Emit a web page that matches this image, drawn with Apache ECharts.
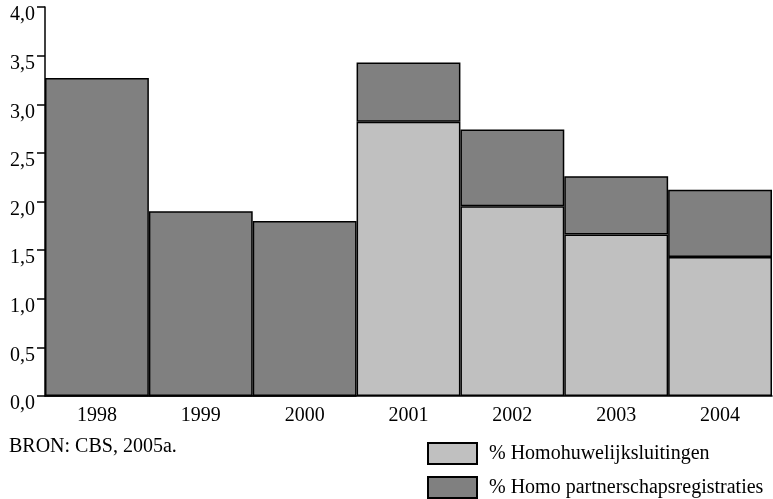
<!DOCTYPE html>
<html><head><meta charset="utf-8">
<script src="https://cdn.jsdelivr.net/npm/echarts@6/dist/echarts.min.js"></script>
<style>html,body{margin:0;padding:0;background:#fff}#c{width:773px;height:499px}</style>
</head><body><div id="c"></div>
<script>
var years = ['1998','1999','2000','2001','2002','2003','2004'];
var huwelijk = [0, 0, 0, 2.82, 1.95, 1.66, 1.43];
var partner = [3.27, 1.90, 1.80, 0.61, 0.79, 0.60, 0.69];
var yTicks = [0, 0.5, 1, 1.5, 2, 2.5, 3, 3.5, 4];
var F = 'Liberation Serif';
var chart = echarts.init(document.getElementById('c'));
chart.setOption({
  animation: false,
  textStyle: {fontFamily: F},
  grid: {left: 45, right: 1, top: 7, bottom: 103},
  graphic: [{type: 'text', left: 9, top: 437, style: {text: 'BRON: CBS, 2005a.', font: '20px "Liberation Serif"', fill: '#000'}}],
  legend: {
    orient: 'vertical', left: 427, top: 442, padding: 0, itemWidth: 49, itemHeight: 21, itemGap: 11,
    icon: 'rect',
    textStyle: {fontFamily: F, fontSize: 20, color: '#000', padding: [0,0,0,7]},
    data: ['% Homohuwelijksluitingen', '% Homo partnerschapsregistraties']
  },
  xAxis: {
    type: 'category', data: years,
    axisLine: {lineStyle: {color: '#000', width: 1.5}},
    axisTick: {show: false},
    axisLabel: {color: '#000', fontFamily: F, fontSize: 20, margin: 10}
  },
  yAxis: {
    type: 'value', min: 0, max: 4, interval: 0.5,
    axisLine: {show: true, lineStyle: {color: '#000', width: 1.5}},
    axisTick: {show: true, length: 8, lineStyle: {color: '#000', width: 1.5}},
    splitLine: {show: false},
    axisLabel: {color: '#000', fontFamily: F, fontSize: 20, margin: 10, verticalAlign: 'top', padding: [-2,0,0,0],
      formatter: function(v){ return v.toFixed(1).replace('.', ','); }}
  },
  series: [
    {name: '% Homohuwelijksluitingen', type: 'bar', stack: 's', data: huwelijk, barCategoryGap: 0,
     itemStyle: {color: '#c0c0c0', borderColor: '#000', borderWidth: 1.5}},
    {name: '% Homo partnerschapsregistraties', type: 'bar', stack: 's', data: partner, barCategoryGap: 0,
     itemStyle: {color: '#808080', borderColor: '#000', borderWidth: 1.5}}
  ]
});
</script></body></html>
